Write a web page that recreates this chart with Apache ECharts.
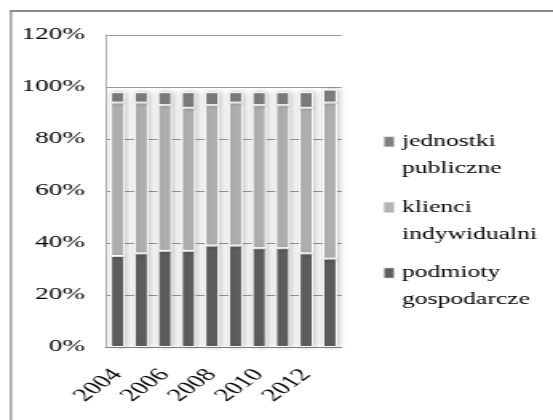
<!DOCTYPE html>
<html>
<head>
<meta charset="utf-8">
<script src="https://cdn.jsdelivr.net/npm/echarts@6/dist/echarts.min.js"></script>
<style>
  html, body { margin: 0; padding: 0; background: #fff; overflow: hidden; }
  #chart {
    position: absolute; left: 0; top: 0;
    width: 346px; height: 420px;
    transform: scaleX(1.5983); transform-origin: 0 0;
  }
</style>
</head>
<body>
<div id="chart"></div>
<script>
// Years on the category axis
const years = ['2004', '2005', '2006', '2007', '2008', '2009', '2010', '2011', '2012', '2013'];
// Share of each client group (%), stacked bottom to top
const podmiotyGospodarcze = [35, 36, 37, 37, 39, 39, 38, 38, 36, 34];
const klienciIndywidualni = [59, 58, 56, 55, 54, 55, 55, 55, 56, 60];
const jednostkiPubliczne  = [4, 4, 5, 6, 5, 4, 5, 5, 6, 5];
// Value-axis ticks
const yTicks = { min: 0, max: 120, interval: 20 };

const seriesNames = ['podmioty gospodarcze', 'klienci indywidualni', 'jednostki publiczne'];
const seriesColors = ['#5f5f5f', '#b3b3b3', '#7f7f7f'];
const seriesData = [podmiotyGospodarcze, klienciIndywidualni, jednostkiPubliczne];

const font = 'Liberation Serif';
// Legend marker: a small square sitting beside the first line of a two-line label
const legendIcon = 'path://M0,0L0,0M0,8.5L6.25,8.5L6.25,18.5L0,18.5ZM6.25,54L6.25,54';

const chart = echarts.init(document.getElementById('chart'), null, { renderer: 'canvas' });

chart.setOption({
  animation: false,
  backgroundColor: '#fff',
  textStyle: { fontFamily: font },
  grid: { left: 66.25, right: 132.25, top: 35, bottom: 73, containLabel: false },
  xAxis: {
    type: 'category',
    data: years,
    axisLine: { show: true, lineStyle: { color: '#868686', width: 1 } },
    axisTick: { show: false },
    axisLabel: {
      interval: 1, rotate: 48, margin: 25,
      color: '#000', fontFamily: font, fontSize: 18
    }
  },
  yAxis: {
    type: 'value',
    min: yTicks.min, max: yTicks.max, interval: yTicks.interval,
    axisLine: { show: true, lineStyle: { color: '#b0b0b0', width: 1 } },
    axisTick: { show: false },
    axisLabel: {
      formatter: '{value}%', margin: 13,
      color: '#000', fontFamily: font, fontSize: 17
    },
    splitLine: { show: true, lineStyle: { color: '#9a9a9a', width: 1 } }
  },
  legend: {
    orient: 'vertical',
    left: 235, top: 123,
    itemGap: 11,
    itemWidth: 6.25, itemHeight: 54,
    icon: legendIcon,
    data: seriesNames.slice().reverse(),
    formatter: name => name.replace(' ', '\n'),
    itemStyle: { borderWidth: 0.6, borderColor: '#d0d0d0', shadowBlur: 0, shadowColor: 'transparent' },
    textStyle: { color: '#000', fontFamily: font, fontSize: 16, lineHeight: 27 }
  },
  series: seriesNames.map((name, i) => ({
    name,
    type: 'bar',
    stack: 'share',
    barWidth: 9,
    data: seriesData[i],
    itemStyle: {
      color: seriesColors[i],
      borderColor: '#ffffff',
      borderWidth: 1,
      shadowBlur: 4,
      shadowOffsetX: 1,
      shadowColor: 'rgba(0,0,0,0.25)'
    }
  })),
  graphic: [
    // Frame around the whole chart
    { type: 'line', shape: { x1: 6.25, y1: 11, x2: 400, y2: 11 }, style: { stroke: '#8a8a8a', lineWidth: 2 }, silent: true },
    { type: 'line', shape: { x1: 6.875, y1: 10, x2: 6.875, y2: 440 }, style: { stroke: '#8a8a8a', lineWidth: 1.25 }, silent: true }
  ]
});
</script>
</body>
</html>
